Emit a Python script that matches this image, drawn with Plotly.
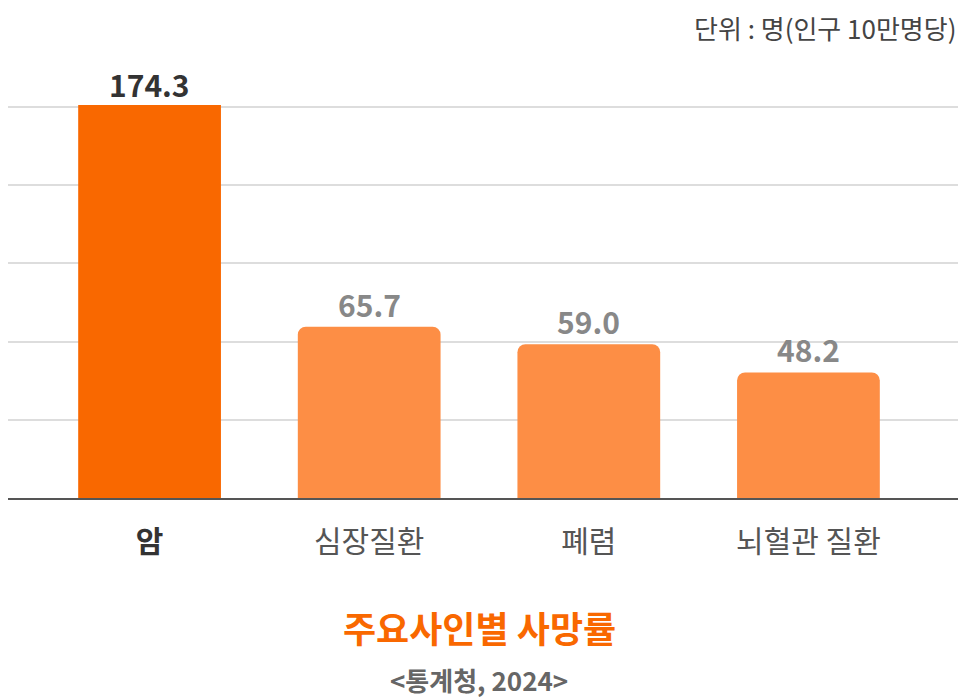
import plotly.graph_objects as go

categories = ["암", "심장질환", "폐렴", "뇌혈관 질환"]
values = [174.3, 65.7, 59.0, 48.2]
value_labels = ["174.3", "65.7", "59.0", "48.2"]
title_text = "주요사인별 사망률"
source_text = "<통계청, 2024>"
unit_text = "단위 : 명(인구 10만명당)"

FONT = "Noto Sans CJK KR"
Y_MAX = 150.8
bar_colors = ["#F96800"] + ["#FD8E45"] * (len(values) - 1)
label_colors = ["#333333"] + ["#888888"] * (len(values) - 1)

fig = go.Figure(
    go.Bar(
        x=categories,
        y=values,
        marker=dict(color=bar_colors, line=dict(width=0), cornerradius=8),
        width=0.65,
        hoverinfo="skip",
    )
)

annotations = []
for cat, v, lab, col in zip(categories, values, value_labels, label_colors):
    annotations.append(dict(
        x=cat, y=min(v, 150), xref="x", yref="y",
        text=f"<b>{lab}</b>", showarrow=False, yanchor="bottom", yshift=-1,
        font=dict(family=FONT, size=30, color=col),
    ))

annotations += [
    dict(x=0.4958, y=-0.328, xref="paper", yref="paper", text=f"<b>{title_text}</b>",
         showarrow=False, xanchor="center", yanchor="middle",
         font=dict(family=FONT, size=36, color="#F96800")),
    dict(x=0.4958, y=-0.463, xref="paper", yref="paper",
         text="<b>" + source_text.replace("<", "&lt;").replace(">", "&gt;") + "</b>",
         showarrow=False, xanchor="center", yanchor="middle",
         font=dict(family=FONT, size=26, color="#666666")),
    dict(x=1.0, y=1.197, xref="paper", yref="paper", text=unit_text,
         showarrow=False, xanchor="right", yanchor="middle", borderpad=0,
         font=dict(family=FONT, size=26, color="#444444")),
]

tick_text = [f"<b><span style='color:#333333'>{categories[0]}</span></b>"] + categories[1:]

fig.update_layout(
    width=959, height=692,
    margin=dict(l=0, r=9, t=97, b=202, pad=0),
    plot_bgcolor="white", paper_bgcolor="white",
    showlegend=False,
    font=dict(family=FONT),
    xaxis=dict(
        range=[-0.6446, 3.681],
        showline=True, linecolor="#555555", linewidth=2,
        ticks="", tickmode="array", tickvals=categories, ticktext=tick_text,
        tickfont=dict(family=FONT, size=30, color="#555555"),
        ticklabelstandoff=16,
        fixedrange=True,
    ),
    yaxis=dict(
        range=[0, Y_MAX], dtick=30, tick0=0,
        showgrid=True, gridcolor="#DDDDDD", gridwidth=1.5,
        zeroline=False, showticklabels=False, ticks="",
        fixedrange=True,
    ),
    annotations=annotations,
)

fig.write_html("out.html")
